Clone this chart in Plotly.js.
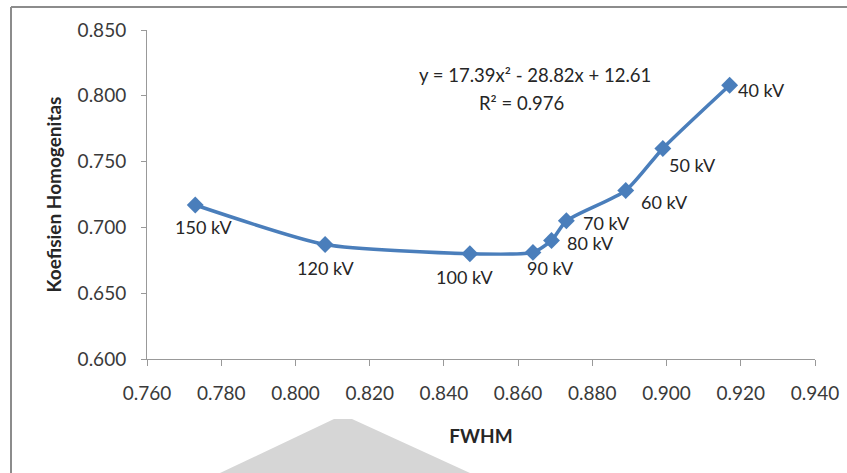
<!DOCTYPE html>
<html>
<head>
<meta charset="utf-8">
<script src="https://cdn.plot.ly/plotly-3.0.1.min.js"></script>
<style>html,body{margin:0;padding:0;background:#fff;}#chart{width:847px;height:473px;}</style>
</head>
<body>
<div id="chart"></div>
<script>
const fwhm = [0.773, 0.808, 0.847, 0.864, 0.869, 0.873, 0.889, 0.899, 0.917];
const koefisien = [0.717, 0.687, 0.680, 0.681, 0.690, 0.705, 0.728, 0.760, 0.808];
const labels = ['150 kV', '120 kV', '100 kV', '90 kV', '80 kV', '70 kV', '60 kV', '50 kV', '40 kV'];
const xTicks = [0.76, 0.78, 0.80, 0.82, 0.84, 0.86, 0.88, 0.90, 0.92, 0.94];
const yTicks = [0.60, 0.65, 0.70, 0.75, 0.80, 0.85];
const equation = 'y = 17.39x² - 28.82x + 12.61';
const rSquared = 'R² = 0.976';

// label offsets in pixels (styling only)
const labelDx = [8, 0, -5, 18, 39, 40, 39, 30, 32];
const labelDy = [22, 23, 23, 16, 2, 2, 11, 17, 5];

const font = 'Lato, "Open Sans", sans-serif';
const trace = {
  x: fwhm, y: koefisien,
  type: 'scatter', mode: 'lines+markers',
  line: {color: '#4a7ebb', width: 3.5, shape: 'spline', smoothing: 0.6},
  marker: {symbol: 'diamond', size: 13, color: '#4a7ebb'},
  cliponaxis: false, hoverinfo: 'x+y'
};

const L = 147, R = 815, T = 30, B = 359;
const pw = R - L, ph = B - T;
const px = v => (v - L) / pw;
const py = v => (B - v) / ph;

const labelAnns = labels.map((t, i) => ({
  x: fwhm[i], y: koefisien[i], xref: 'x', yref: 'y', text: t, showarrow: false,
  xshift: labelDx[i], yshift: -labelDy[i],
  font: {family: font, size: 18, color: '#262626'}
}));

const layout = {
  width: 847, height: 473,
  margin: {l: L, r: 847 - R, t: T, b: 473 - B},
  paper_bgcolor: '#fff', plot_bgcolor: '#fff',
  showlegend: false,
  xaxis: {
    range: [0.76, 0.94], tickvals: xTicks, tickformat: '.3f',
    showgrid: false, zeroline: false, showline: true, linecolor: '#999', linewidth: 1,
    ticks: 'outside', ticklen: 6, tickcolor: '#999', ticklabelstandoff: 11,
    tickfont: {family: font, size: 19, color: '#3a3a3a'},
    title: {text: '<b>FWHM</b>', font: {family: font, size: 19, color: '#262626'}, standoff: 26}
  },
  yaxis: {
    range: [0.60, 0.85], tickvals: yTicks, tickformat: '.3f',
    showgrid: false, zeroline: false, showline: true, linecolor: '#999', linewidth: 1,
    ticks: 'outside', ticklen: 5, tickcolor: '#999', ticklabelstandoff: 11,
    tickfont: {family: font, size: 19, color: '#3a3a3a'},
    title: {text: '<b>Koefisien Homogenitas</b>', font: {family: font, size: 19, color: '#262626'}, standoff: 10}
  },
  annotations: labelAnns.concat([
    {xref: 'paper', yref: 'paper', x: px(535), y: py(62), text: equation, showarrow: false, font: {family: font, size: 18.5, color: '#262626'}},
    {xref: 'paper', yref: 'paper', x: px(521), y: py(90), text: rSquared, showarrow: false, font: {family: font, size: 18.5, color: '#262626'}}
  ]),
  shapes: [
    {type: 'line', xref: 'paper', yref: 'paper', x0: px(11), x1: px(847), y0: py(7), y1: py(7), line: {color: '#8c8c8c', width: 2}},
    {type: 'line', xref: 'paper', yref: 'paper', x0: px(11), x1: px(11), y0: py(7), y1: py(473), line: {color: '#8c8c8c', width: 2}},
    {type: 'path', xref: 'paper', yref: 'paper', layer: 'below',
     path: 'M ' + px(220) + ',' + py(473) + ' L ' + px(334) + ',' + py(419) + ' L ' + px(352) + ',' + py(419) + ' L ' + px(470) + ',' + py(473) + ' Z',
     fillcolor: '#d6d6d6', line: {width: 0}}
  ]
};

Plotly.newPlot('chart', [trace], layout, {displayModeBar: false, staticPlot: true});
</script>
</body>
</html>
